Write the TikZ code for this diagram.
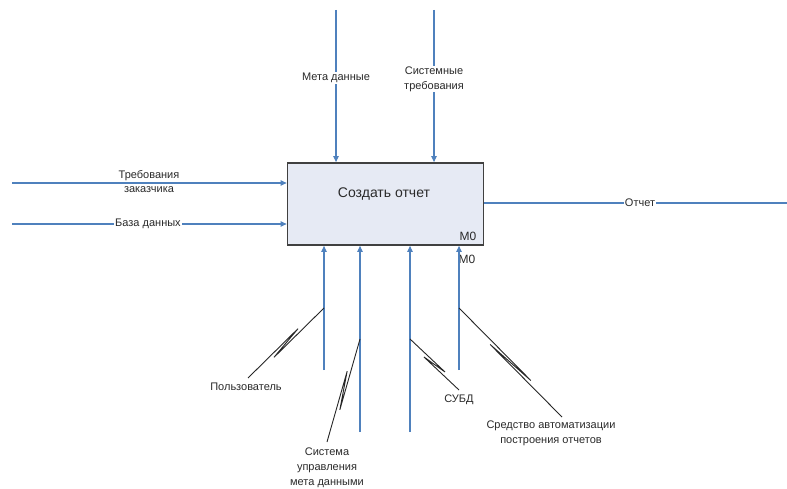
\documentclass[tikz,border=0pt]{standalone}
\usepackage{fontspec}
\setmainfont{Liberation Sans}
\usetikzlibrary{arrows.meta,calc}
\definecolor{flow}{HTML}{4F81BD}
\definecolor{boxfill}{HTML}{E6EAF4}
\definecolor{txt}{HTML}{2A2A2A}
\begin{document}
\begin{tikzpicture}[x=1pt,y=-1pt,
  flowline/.style={draw=flow,line width=1.1pt,-{Triangle[length=6pt,width=5.5pt]}},
  flowplain/.style={draw=flow,line width=1.1pt},
  lbl/.style={font=\fontsize{11}{15}\selectfont,text=txt,inner sep=1pt,align=center},
  wlbl/.style={lbl,fill=white},
  leader/.style={draw=black!85,line width=0.9pt,line join=miter},
  squiggle/.style={to path={-- ($(\tikztostart)!0.68!(\tikztotarget)!2.4pt!90:(\tikztotarget)$) -- ($(\tikztostart)!0.32!(\tikztotarget)!2.4pt!-90:(\tikztotarget)$) -- (\tikztotarget)}},
  act/.style={draw=black!75,line width=1.8pt,fill=boxfill,minimum width=196pt,minimum height=82pt,inner sep=0pt}
]
\useasboundingbox (0,0) rectangle (787,489);
% activity box
\node[act] (box) at (385.5,204) {};
\node[lbl,font=\fontsize{14}{16}\selectfont] (title) at (384,194) {Создать отчет};
\node[lbl,font=\fontsize{12}{14}\selectfont] (m0in) at (468,236) {M0};
\node[lbl,font=\fontsize{12}{14}\selectfont] (m0out) at (467,259) {M0};
% controls
\coordinate (c1) at (336,10);
\coordinate (c2) at (434,10);
\draw[flowline] (c1) -- (c1 |- box.north);
\draw[flowline] (c2) -- (c2 |- box.north);
\node[wlbl] (lc1) at (336,78) {Мета данные};
\node[wlbl] (lc2) at (434,79) {Системные\\требования};
% inputs
\coordinate (i1) at (12,183);
\coordinate (i2) at (12,224);
\draw[flowline] (i1) -- (i1 -| box.west);
\draw[flowline] (i2) -- (i2 -| box.west);
\node[wlbl] (li1) at (149,176) {Требования};
\node[lbl] (li1b) at (149,190) {заказчика};
\node[wlbl] (li2) at (148,224) {База данных};
% output
\coordinate (o1) at (787,203);
\draw[flowplain] (box.east |- o1) -- (o1);
\node[wlbl] (lo1) at (640,203) {Отчет};
% mechanisms
\coordinate (m1) at (324,370);
\coordinate (m2) at (360,432);
\coordinate (m3) at (410,432);
\coordinate (m4) at (459,370);
\draw[flowline] (m1) -- (m1 |- box.south);
\draw[flowline] (m2) -- (m2 |- box.south);
\draw[flowline] (m3) -- (m3 |- box.south);
\draw[flowline] (m4) -- (m4 |- box.south);
% leaders
\coordinate (s1) at (324,308);
\coordinate (e1) at (248,378);
\coordinate (s2) at (360,339);
\coordinate (e2) at (327,442);
\coordinate (s3) at (410,339);
\coordinate (e3) at (459,390);
\coordinate (s4) at (459,308);
\coordinate (e4) at (562,417);
\draw[leader] (s1) to[squiggle] (e1);
\draw[leader] (s2) to[squiggle] (e2);
\draw[leader] (s3) to[squiggle] (e3);
\draw[leader] (s4) to[squiggle] (e4);
\node[lbl] (lm1) at (246,387) {Пользователь};
\node[lbl] (lm2) at (327,468) {Система\\управления\\мета данными};
\node[lbl] (lm3) at (459,400) {СУБД};
\node[lbl] (lm4) at (551,433) {Средство автоматизации\\построения отчетов};
\end{tikzpicture}
\end{document}
